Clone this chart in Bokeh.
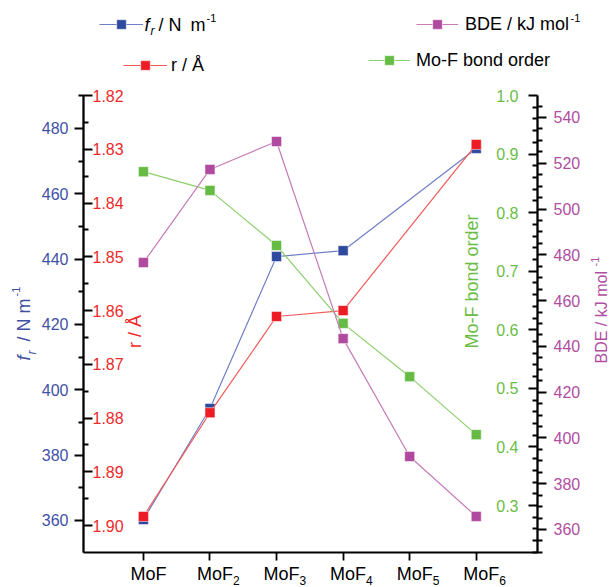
import math
from bokeh.plotting import figure
from bokeh.models import (Range1d, LinearAxis, FixedTicker, PrintfTickFormatter,
                          Label, Legend, LegendItem)
from bokeh.embed import file_html
from bokeh.resources import INLINE

# ---------------- data ----------------
cat_main = ["MoF", "MoF", "MoF", "MoF", "MoF", "MoF"]
cat_sub = ["", "2", "3", "4", "5", "6"]
fr_values = [360.3, 394.3, 440.8, 442.6, None, 473.9]       # f_r / N m^-1
r_values = [1.8983, 1.8790, 1.8611, 1.8600, None, 1.8291]   # r / Å
bond_order = [0.870, 0.838, 0.744, 0.611, 0.520, 0.421]     # Mo-F bond order
bde_values = [476.6, 517.3, 529.5, 443.4, 391.9, 365.7]     # BDE / kJ mol^-1

fr_ticks = [360, 380, 400, 420, 440, 460, 480]
fr_minor = [370, 390, 410, 430, 450, 470, 490]
r_ticks = [1.82, 1.83, 1.84, 1.85, 1.86, 1.87, 1.88, 1.89, 1.90]
r_minor = [1.825, 1.835, 1.845, 1.855, 1.865, 1.875, 1.885, 1.895]
bo_ticks = [0.3, 0.4, 0.5, 0.6, 0.7, 0.8, 0.9, 1.0]
bo_minor = [round(0.2 + 0.02 * k, 2) for k in range(1, 40) if k % 5 != 0]
bde_ticks = [360, 380, 400, 420, 440, 460, 480, 500, 520, 540]
bde_minor = [350 + 5 * k for k in range(0, 40) if (350 + 5 * k) % 20 != 0]

x_pos = list(range(len(cat_main)))

# axis extents (value at top / bottom of the plotting box)
fr_lim = (490.1, 350.2)
r_lim = (1.82, 1.905)
bo_lim = (1.0, 0.2198)
bde_lim = (549.6, 349.95)
x_lim = (-0.9, 5.92)

# ---------------- style / geometry ----------------
FONT = "Liberation Sans"
BLUE_T, BLUE_M, BLUE_L = "#3F51A5", "#2E4A9E", "#6F7FC6"
RED_T, RED_M, RED_L = "#EE2A2A", "#ED1C24", "#F25A5A"
GRN_T, GRN_M, GRN_L = "#6ABD45", "#66BB44", "#8CCF6C"
MAG_T, MAG_M, MAG_L = "#B14E9F", "#B04A9E", "#C67AB8"

W, H = 609, 587
BOX_L, BOX_R, BOX_T, BOX_B = 83, 537, 95, 552   # plotting box in canvas pixels


def canvas_range(v_a, v_b, p_a, p_b, size):
    """Range spanning the whole canvas given value v_a at pixel p_a and v_b at p_b."""
    k = (v_b - v_a) / (p_b - p_a)
    return v_a - k * p_a, v_a + k * (size - p_a)


x0, x1 = canvas_range(x_lim[0], x_lim[1], BOX_L, BOX_R, W)


def y_range(lim):
    top, bot = canvas_range(lim[0], lim[1], BOX_T, BOX_B, H)
    return Range1d(start=bot, end=top)


p = figure(width=W, height=H, output_backend="svg", toolbar_location=None,
           x_range=Range1d(x0, x1), y_range=y_range(fr_lim),
           x_axis_location=None, y_axis_location=None,
           min_border=0, min_border_left=0, min_border_right=0,
           min_border_top=0, min_border_bottom=0)
p.extra_y_ranges = {"r": y_range(r_lim), "bo": y_range(bo_lim),
                    "bde": y_range(bde_lim)}
p.outline_line_color = None
p.xgrid.grid_line_color = None
p.ygrid.grid_line_color = None
p.background_fill_color = "white"
p.border_fill_color = "white"


def style_axis(ax, color, standoff, tout=9, tin=0, mout=5, min_=0):
    ax.axis_line_color = "black"
    ax.axis_line_width = 1.8
    ax.major_tick_line_color = "black"
    ax.major_tick_line_width = 1.8
    ax.major_tick_out = tout
    ax.major_tick_in = tin
    ax.minor_tick_line_color = "black"
    ax.minor_tick_line_width = 1.8
    ax.minor_tick_out = mout
    ax.minor_tick_in = min_
    ax.major_label_text_color = color
    ax.major_label_text_font = FONT
    ax.major_label_text_font_size = "16px"
    ax.major_label_standoff = standoff


def bounds(lim):
    return (min(lim), max(lim))


# left line: f_r labels outside, r labels inside
ax_fr = LinearAxis(fixed_location=x_lim[0], bounds=bounds(fr_lim),
                   ticker=FixedTicker(ticks=fr_ticks, minor_ticks=fr_minor),
                   formatter=PrintfTickFormatter(format="%d"))
style_axis(ax_fr, BLUE_T, 6)
p.add_layout(ax_fr, "left")

ax_r = LinearAxis(y_range_name="r", fixed_location=x_lim[0], bounds=bounds(r_lim),
                  ticker=FixedTicker(ticks=r_ticks, minor_ticks=r_minor),
                  formatter=PrintfTickFormatter(format="%.2f"))
style_axis(ax_r, RED_T, 0)
p.add_layout(ax_r, "right")

# right line: bond-order labels inside, BDE labels outside
ax_bde = LinearAxis(y_range_name="bde", fixed_location=x_lim[1], bounds=bounds(bde_lim),
                    ticker=FixedTicker(ticks=bde_ticks, minor_ticks=bde_minor),
                    formatter=PrintfTickFormatter(format="%d"))
style_axis(ax_bde, MAG_T, 7)
p.add_layout(ax_bde, "right")

ax_bo = LinearAxis(y_range_name="bo", fixed_location=x_lim[1], bounds=bounds(bo_lim),
                   ticker=FixedTicker(ticks=bo_ticks, minor_ticks=bo_minor),
                   formatter=PrintfTickFormatter(format="%.1f"))
style_axis(ax_bo, GRN_T, 10)
p.add_layout(ax_bo, "left")

# bottom line
ax_x = LinearAxis(fixed_location=fr_lim[1], bounds=bounds(x_lim),
                  ticker=FixedTicker(ticks=x_pos, minor_ticks=[]),
                  major_label_overrides={i: "" for i in x_pos})
style_axis(ax_x, "black", 4, tout=8, mout=0)
ax_x.minor_tick_line_color = None
p.add_layout(ax_x, "below")


def series(values, color_l, color_m, rng=None):
    xs = [x for x, v in zip(x_pos, values) if v is not None]
    ys = [v for v in values if v is not None]
    kw = {} if rng is None else {"y_range_name": rng}
    ln = p.line(xs, ys, line_color=color_l, line_width=1.2, **kw)
    pt = p.scatter(xs, ys, marker="square", size=10, fill_color=color_m,
                   line_color="white", line_alpha=0.5, line_width=1, **kw)
    return ln, pt


fr_l, fr_p = series(fr_values, BLUE_L, BLUE_M)
r_l, r_p = series(r_values, RED_L, RED_M, "r")
bo_l, bo_p = series(bond_order, GRN_L, GRN_M, "bo")
bde_l, bde_p = series(bde_values, MAG_L, MAG_M, "bde")


def txt(text, X, Y, color, size, style="normal", angle=0.0, align="left"):
    """Text whose capital-letter middle sits at canvas pixel (X, Y)."""
    p.add_layout(Label(x=X, y=H - Y, x_units="screen", y_units="screen",
                       text=text, text_color=color, text_font=FONT,
                       text_font_size=f"{size}px", text_font_style=style,
                       angle=angle, text_align=align, text_baseline="middle"))


def legend(label, rends, X, Yc, standoff, gw=44, gh=24):
    lg = Legend(items=[LegendItem(label=label, renderers=list(rends))],
                location=(X, H - (Yc + gh / 2)), orientation="vertical",
                padding=0, margin=0, spacing=0, border_line_color=None,
                background_fill_alpha=0, glyph_width=gw, glyph_height=gh,
                label_standoff=standoff, label_text_font=FONT,
                label_text_font_size="18px", label_text_color="black")
    p.add_layout(lg)


# legends (icons + text)
legend(" ", (fr_l, fr_p), 99, 24, 2)
txt("f", 144, 24, "black", 18, "italic")
txt("r", 150, 30, "black", 12, "italic")
txt("/ N", 158, 24, "black", 18)
txt("m", 190, 24, "black", 18)
txt("-1", 206, 17, "black", 11)

legend("r / \u00c5", (r_l, r_p), 123, 65, 4)

legend("BDE / kJ mol", (bde_l, bde_p), 416, 24, 7, gw=42)
txt("-1", 570, 17, "black", 11)

legend("Mo-F bond order", (bo_l, bo_p), 368, 60, 6, gw=42)

# axis titles (rotated, reading upwards)
A = math.pi / 2
txt("f", 23, 360, BLUE_T, 18, "italic", angle=A)
txt("r", 31, 354, BLUE_T, 12, "italic", angle=A)
txt("/ N m", 23, 341, BLUE_T, 18, angle=A)
txt("-1", 15, 296, BLUE_T, 11, angle=A)

txt("r / \u00c5", 134, 331, RED_T, 18, angle=A, align="center")
txt("Mo-F bond order", 471, 281, GRN_T, 18, angle=A, align="center")

txt("BDE / kJ mol", 601, 363, MAG_T, 16, angle=A)
txt("-1", 594, 266, MAG_T, 11, angle=A)

# category labels with subscripts
for i, (m, s) in enumerate(zip(cat_main, cat_sub)):
    p.add_layout(Label(x=x_pos[i], y=H - 573, x_units="data", y_units="screen",
                       x_offset=-13, text=m, text_color="black", text_font=FONT,
                       text_font_size="18px", text_align="left",
                       text_baseline="middle"))
    if s:
        p.add_layout(Label(x=x_pos[i], y=H - 580, x_units="data", y_units="screen",
                           x_offset=23, text=s, text_color="black", text_font=FONT,
                           text_font_size="12px", text_align="left",
                           text_baseline="middle"))

open("out.html", "w").write(file_html(p, INLINE))
